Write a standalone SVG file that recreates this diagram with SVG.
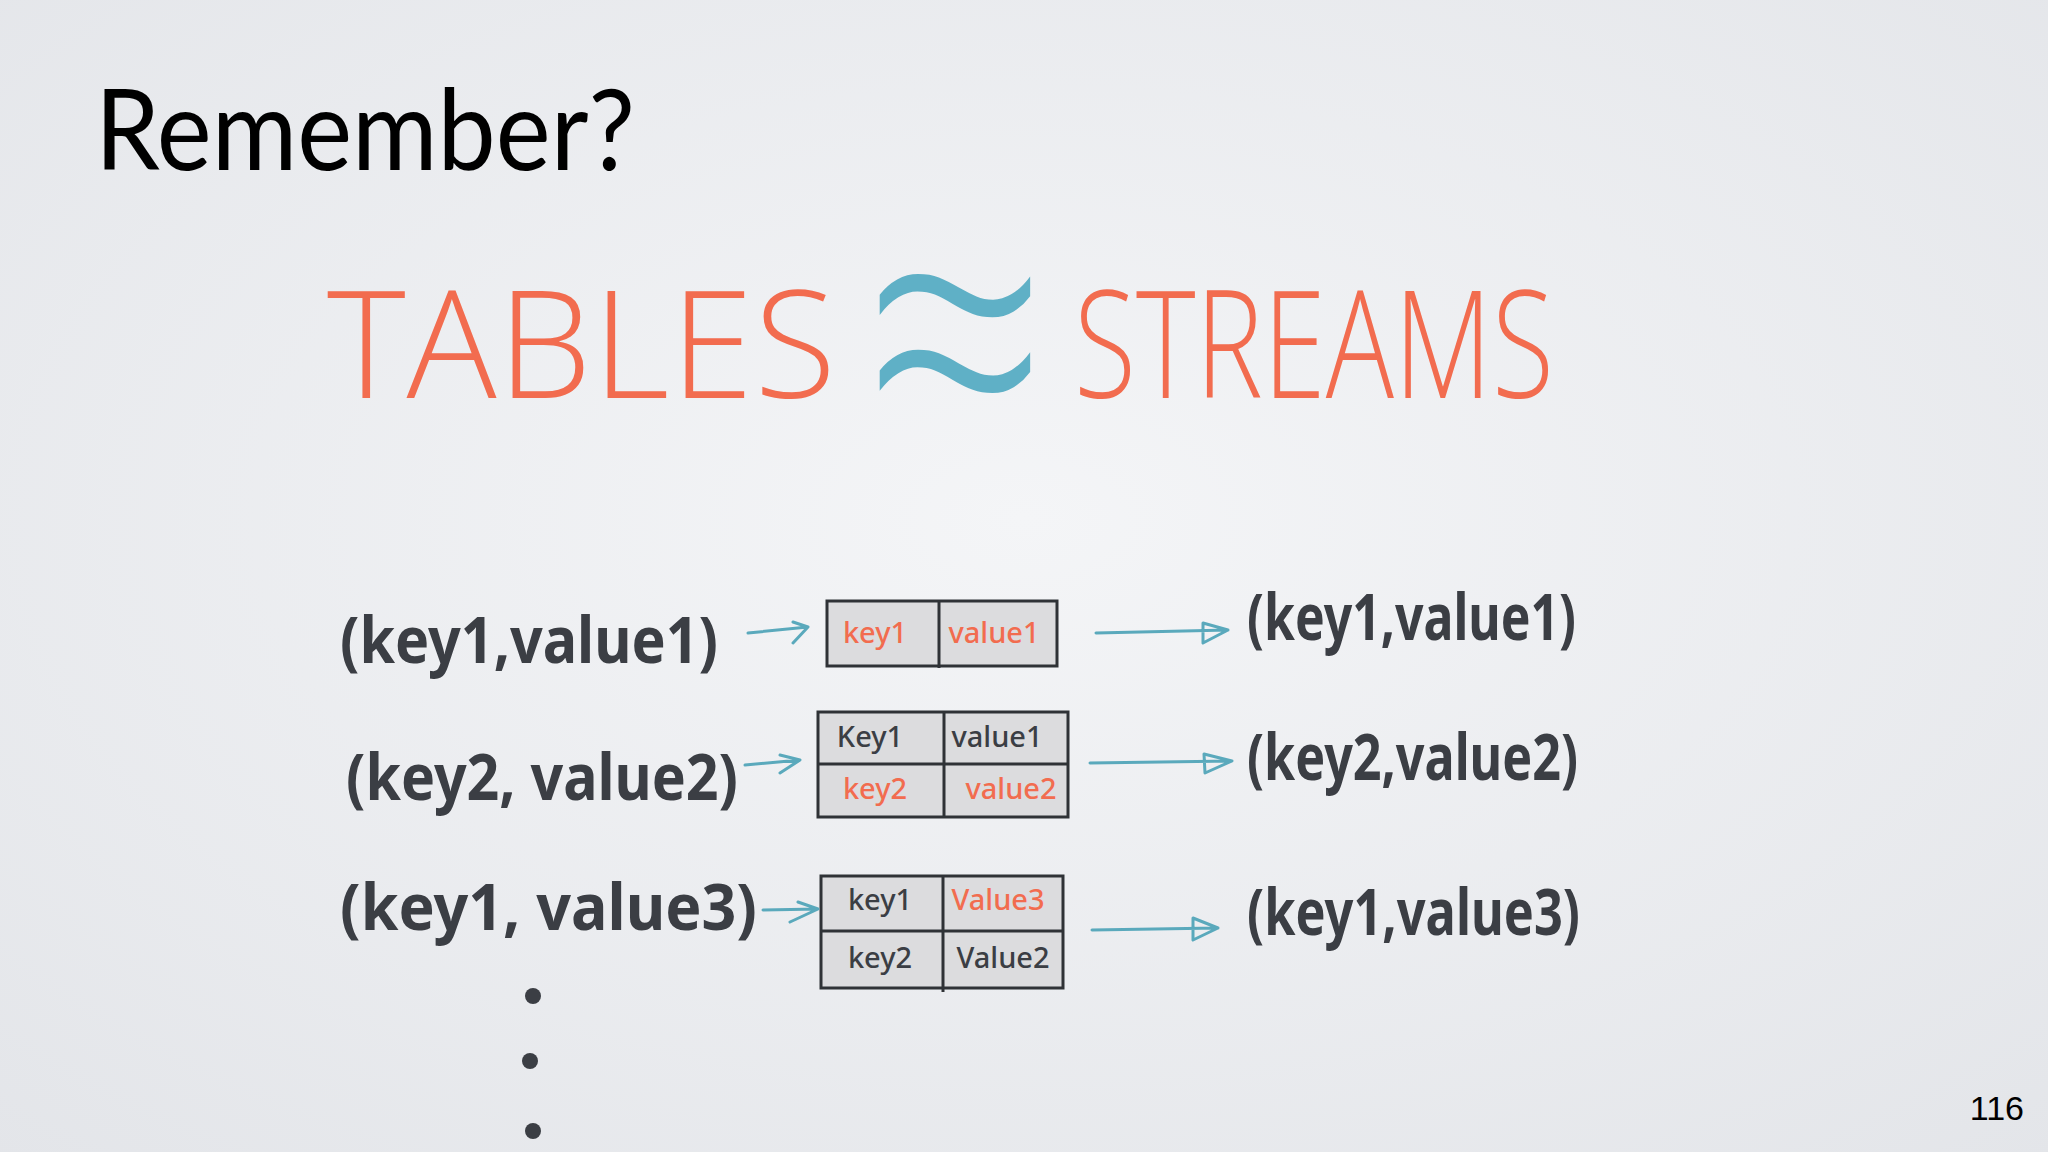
<svg xmlns="http://www.w3.org/2000/svg" width="2048" height="1152" viewBox="0 0 2048 1152">
<defs>
<radialGradient id="bg" cx="50%" cy="45%" r="75%">
<stop offset="0" stop-color="#f4f5f7"/>
<stop offset="1" stop-color="#e3e5e9"/>
</radialGradient>
<style>
.hand{font-family:"Noto Sans","DejaVu Sans",sans-serif;font-weight:700;fill:#3b3e44}
.head{font-family:"Open Sans","DejaVu Sans",sans-serif;font-weight:300;fill:#f26c4f}
.cell{fill:#dcdcde;stroke:#2f3236;stroke-width:3}
.div{stroke:#2f3236;stroke-width:3;fill:none}
.ct{font-family:"Noto Sans","DejaVu Sans",sans-serif;font-weight:500;font-size:29px;text-anchor:middle}
.dk{fill:#3b3e44}
.or{fill:#f26c4f}
.arr{stroke:#5aa9bc;stroke-width:3;fill:none;stroke-linecap:round;stroke-linejoin:round}
</style>
</defs>
<rect width="2048" height="1152" fill="url(#bg)"/>

<g id="title">
<text x="95" y="170" font-family="Lato,'Open Sans',sans-serif" font-size="112" fill="#000" textLength="540" lengthAdjust="spacingAndGlyphs">Remember?</text>
</g>

<g id="heading">
<text class="head" x="327" y="398" font-size="150" textLength="509" lengthAdjust="spacing">TABLES</text>
<text transform="translate(955,348) scale(1.25,1.6)" x="0" y="84" font-family="'Open Sans',sans-serif" font-weight="300" font-size="260" fill="#5fb0c6" text-anchor="middle">≈</text>
<text class="head" x="1074" y="398" font-size="150" textLength="480" lengthAdjust="spacingAndGlyphs">STREAMS</text>
</g>

<g id="input-1"><text class="hand" x="340" y="663" font-size="64" textLength="378" lengthAdjust="spacingAndGlyphs">(key1,value1)</text></g>
<g id="input-2"><text class="hand" x="346" y="800" font-size="64" textLength="392" lengthAdjust="spacingAndGlyphs">(key2, value2)</text></g>
<g id="input-3"><text class="hand" x="340" y="930" font-size="64" textLength="417" lengthAdjust="spacingAndGlyphs">(key1, value3)</text></g>

<g id="table-1">
<rect class="cell" x="827" y="601" width="230" height="65"/>
<line class="div" x1="939" y1="601" x2="939" y2="668"/>
<text class="ct or" x="875" y="643">key1</text>
<text class="ct or" x="994" y="643">value1</text>
</g>

<g id="table-2">
<rect class="cell" x="818" y="712" width="250" height="105"/>
<line class="div" x1="944" y1="712" x2="944" y2="817"/>
<line class="div" x1="818" y1="764" x2="1068" y2="764"/>
<text class="ct dk" x="870" y="747">Key1</text>
<text class="ct dk" x="997" y="747">value1</text>
<text class="ct or" x="875" y="799">key2</text>
<text class="ct or" x="1011" y="799">value2</text>
</g>

<g id="table-3">
<rect class="cell" x="821" y="876" width="242" height="112"/>
<line class="div" x1="943" y1="876" x2="943" y2="992"/>
<line class="div" x1="821" y1="931" x2="1063" y2="931"/>
<text class="ct dk" x="880" y="910">key1</text>
<text class="ct or" x="998" y="910">Value3</text>
<text class="ct dk" x="880" y="968">key2</text>
<text class="ct dk" x="1003" y="968">Value2</text>
</g>

<g id="output-1"><text class="hand" x="1247" y="640" font-size="64" textLength="329" lengthAdjust="spacingAndGlyphs">(key1,value1)</text></g>
<g id="output-2"><text class="hand" x="1247" y="780" font-size="64" textLength="331" lengthAdjust="spacingAndGlyphs">(key2,value2)</text></g>
<g id="output-3"><text class="hand" x="1247" y="935" font-size="64" textLength="333" lengthAdjust="spacingAndGlyphs">(key1,value3)</text></g>

<g id="connectors">
<path class="arr" d="M748 633 L808 627 M793 622 L808 627 L793 643"/>
<path class="arr" d="M1096 633 L1228 630 M1203 623 L1228 630 L1203 643 Z"/>
<path class="arr" d="M745 765 L800 760 M780 755 L800 760 L780 773"/>
<path class="arr" d="M1090 763 L1232 761 M1204 754 L1232 761 L1205 773 Z"/>
<path class="arr" d="M763 910 L818 909 M798 902 L818 909 L790 922"/>
<path class="arr" d="M1092 930 L1218 928 M1193 918 L1218 928 L1193 940 Z"/>
</g>

<g id="ellipsis" fill="#3b3e44">
<circle cx="533" cy="996" r="8"/>
<circle cx="530" cy="1061" r="8"/>
<circle cx="533" cy="1131" r="8"/>
</g>

<g id="page-number">
<text x="2024" y="1120" font-family="'Liberation Sans',Arial,sans-serif" font-size="34" fill="#000" text-anchor="end">116</text>
</g>
</svg>
